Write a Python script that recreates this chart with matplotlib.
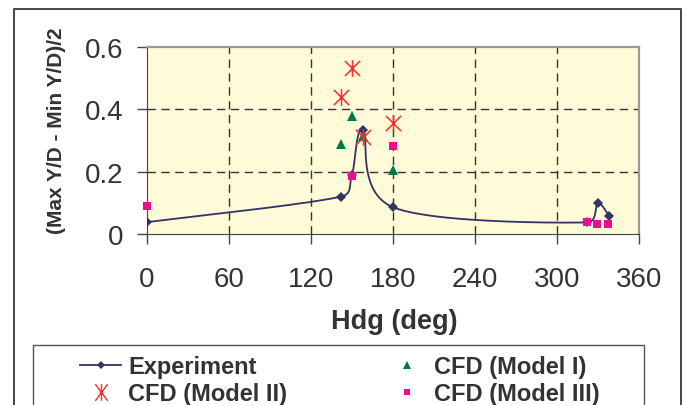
import numpy as np
import matplotlib
matplotlib.use("Agg")
from matplotlib import pyplot as plt
from matplotlib.path import Path
from matplotlib.patches import Rectangle
from matplotlib.lines import Line2D

plt.rcParams['font.family'] = ['Liberation Sans', 'DejaVu Sans']

# data
exp_hdg = [0, 142, 150, 158, 180, 322, 330, 338]
exp_val = [0.038, 0.12, 0.19, 0.334, 0.086, 0.037, 0.098, 0.059]

m1_hdg = [142, 150, 158, 180]
m1_val = [0.289, 0.38, 0.316, 0.206]

m2_hdg = [142, 150, 158, 180]
m2_val = [0.439, 0.532, 0.31, 0.356]

m3_hdg = [0, 150, 180, 322, 329, 337]
m3_val = [0.089, 0.187, 0.283, 0.037, 0.031, 0.031]

xticks = [0, 60, 120, 180, 240, 300, 360]
yticks = [0, 0.2, 0.4, 0.6]
yticklabels = ['0', '0.2', '0.4', '0.6']

W, H = 688, 406
AX = (147, 48, 639, 235)  # left, top, right, bottom in px

NAVY = '#333366'
GREEN = '#007848'
RED = '#ff2a2a'
PINK = '#ec0c8c'
TXT = '#333333'

# Excel-like X-with-bar marker
star = Path([(-1, -1), (1, 1), (-1, 1), (1, -1), (0, -1.1), (0, 1.1)],
            [Path.MOVETO, Path.LINETO, Path.MOVETO, Path.LINETO, Path.MOVETO, Path.LINETO])
star_tall = Path([(-0.75, -1), (0.75, 1), (-0.75, 1), (0.75, -1), (0, -1), (0, 1)],
                 [Path.MOVETO, Path.LINETO, Path.MOVETO, Path.LINETO, Path.MOVETO, Path.LINETO])


def smooth(xs, ys, sx, sy, n=40):
  # Excel style smoothed line: bezier with control points from neighbours,
  # control arms clamped so short segments don't loop
  P = np.column_stack([np.asarray(xs) * sx, np.asarray(ys) * sy])
  out = [P[0]]
  for i in range(len(P) - 1):
    p0 = P[i - 1] if i > 0 else P[i]
    p3 = P[i + 2] if i + 2 < len(P) else P[i + 1]
    seglen = np.hypot(*(P[i + 1] - P[i]))
    d1 = (P[i + 1] - p0) / 6.0
    d2 = (p3 - P[i]) / 6.0
    for d in (d1, d2):
      l = np.hypot(*d)
      if l > seglen / 2.0:
        d *= (seglen / 2.0) / l
    c1 = P[i] + d1
    c2 = P[i + 1] - d2
    t = np.linspace(0, 1, n)[1:, None]
    seg = ((1 - t) ** 3) * P[i] + 3 * ((1 - t) ** 2) * t * c1 + 3 * (1 - t) * t * t * c2 + t ** 3 * P[i + 1]
    out.extend(seg)
  out = np.array(out)
  return out[:, 0] / sx, out[:, 1] / sy


fig = plt.figure(figsize=(W / 100., H / 100.), dpi=100)
ax = fig.add_axes([AX[0] / W, 1 - AX[3] / H, (AX[2] - AX[0]) / W, (AX[3] - AX[1]) / H])
ax.set_facecolor('#fffad8')
ax.set_xlim(0, 360)
ax.set_ylim(0, 0.6)

sx = (AX[2] - AX[0]) / 360.
sy = (AX[3] - AX[1]) / 0.6
cx, cy = smooth(exp_hdg, exp_val, sx, sy)
ax.plot(cx, cy, '-', color=NAVY, lw=1.3, zorder=3)
ax.plot(exp_hdg, exp_val, 'D', color=NAVY, ms=5.6, mew=0, zorder=4)
ax.plot(m3_hdg, m3_val, 's', color=PINK, ms=6.4, mew=0, zorder=5, clip_on=False)
ax.plot(m1_hdg, m1_val, '^', color=GREEN, ms=7.4, mew=0, zorder=5)
ax.plot(m2_hdg, m2_val, ls='none', marker=star, color=RED, ms=12, mew=1.1, zorder=6)

ax.set_xticks(xticks)
ax.set_yticks(yticks)
ax.set_yticklabels(yticklabels)
ax.tick_params(axis='both', direction='out', length=7, width=1, color='#444444',
               labelsize=20, labelcolor=TXT)
ax.tick_params(axis='y', pad=10)
ax.tick_params(axis='x', pad=16)

for v in xticks[1:-1]:
  ax.axvline(v, color='#333333', lw=1, ls=(0, (6, 4)), zorder=1)
for v in yticks[1:-1]:
  ax.axhline(v, color='#333333', lw=1, ls=(0, (6, 4)), zorder=1)

ax.spines['left'].set_color('#444444')
ax.spines['bottom'].set_color('#444444')
ax.spines['top'].set_color('#a09890')
ax.spines['right'].set_color('#a09890')
ax.spines['top'].set_linewidth(1.6)
ax.spines['right'].set_linewidth(1.6)

fig.text(57 / W, 1 - 131 / H, '(Max Y/D - Min Y/D)/2', rotation=90, ha='center', va='center',
         fontsize=15, fontweight='bold', color=TXT)
fig.text(394 / W, 1 - 322 / H, 'Hdg (deg)', ha='center', va='center',
         fontsize=19.5, fontweight='bold', color=TXT)

# outer chart frame
fig.add_artist(Line2D([14 / W, 14 / W, 680.5 / W, 680.5 / W], [-0.05, 1 - 9.5 / H, 1 - 9.5 / H, -0.05],
                      color='#444444', lw=1.4))
# legend frame, runs off the bottom edge
fig.add_artist(Rectangle((33 / W, -0.1), (644 - 33) / W, 0.1 + 1 - 346 / H, transform=fig.transFigure,
                         fill=False, ec='#555555', lw=1.0))

handles = [
  Line2D([], [], color=NAVY, lw=1.3, marker='D', ms=4.2, mew=0),
  Line2D([], [], ls='none', marker=star_tall, color=RED, ms=12, mew=1.0),
  Line2D([], [], ls='none', marker='^', color=GREEN, ms=6, mew=0),
  Line2D([], [], ls='none', marker='s', color=PINK, ms=5, mew=0),
]
labels = ['Experiment', 'CFD (Model II)', 'CFD (Model I)', 'CFD (Model III)']
leg = fig.legend(handles, labels, ncol=2, loc='upper left', bbox_to_anchor=(80 / W, 1 - 356 / H),
                 frameon=False, handlelength=1.75, handletextpad=0.3, columnspacing=4.17,
                 labelspacing=0.17, borderpad=0, borderaxespad=0,
                 prop={'size': 17, 'weight': 'bold'})
for t in leg.get_texts():
  t.set_color(TXT)

fig.savefig('out.png', dpi=100)
